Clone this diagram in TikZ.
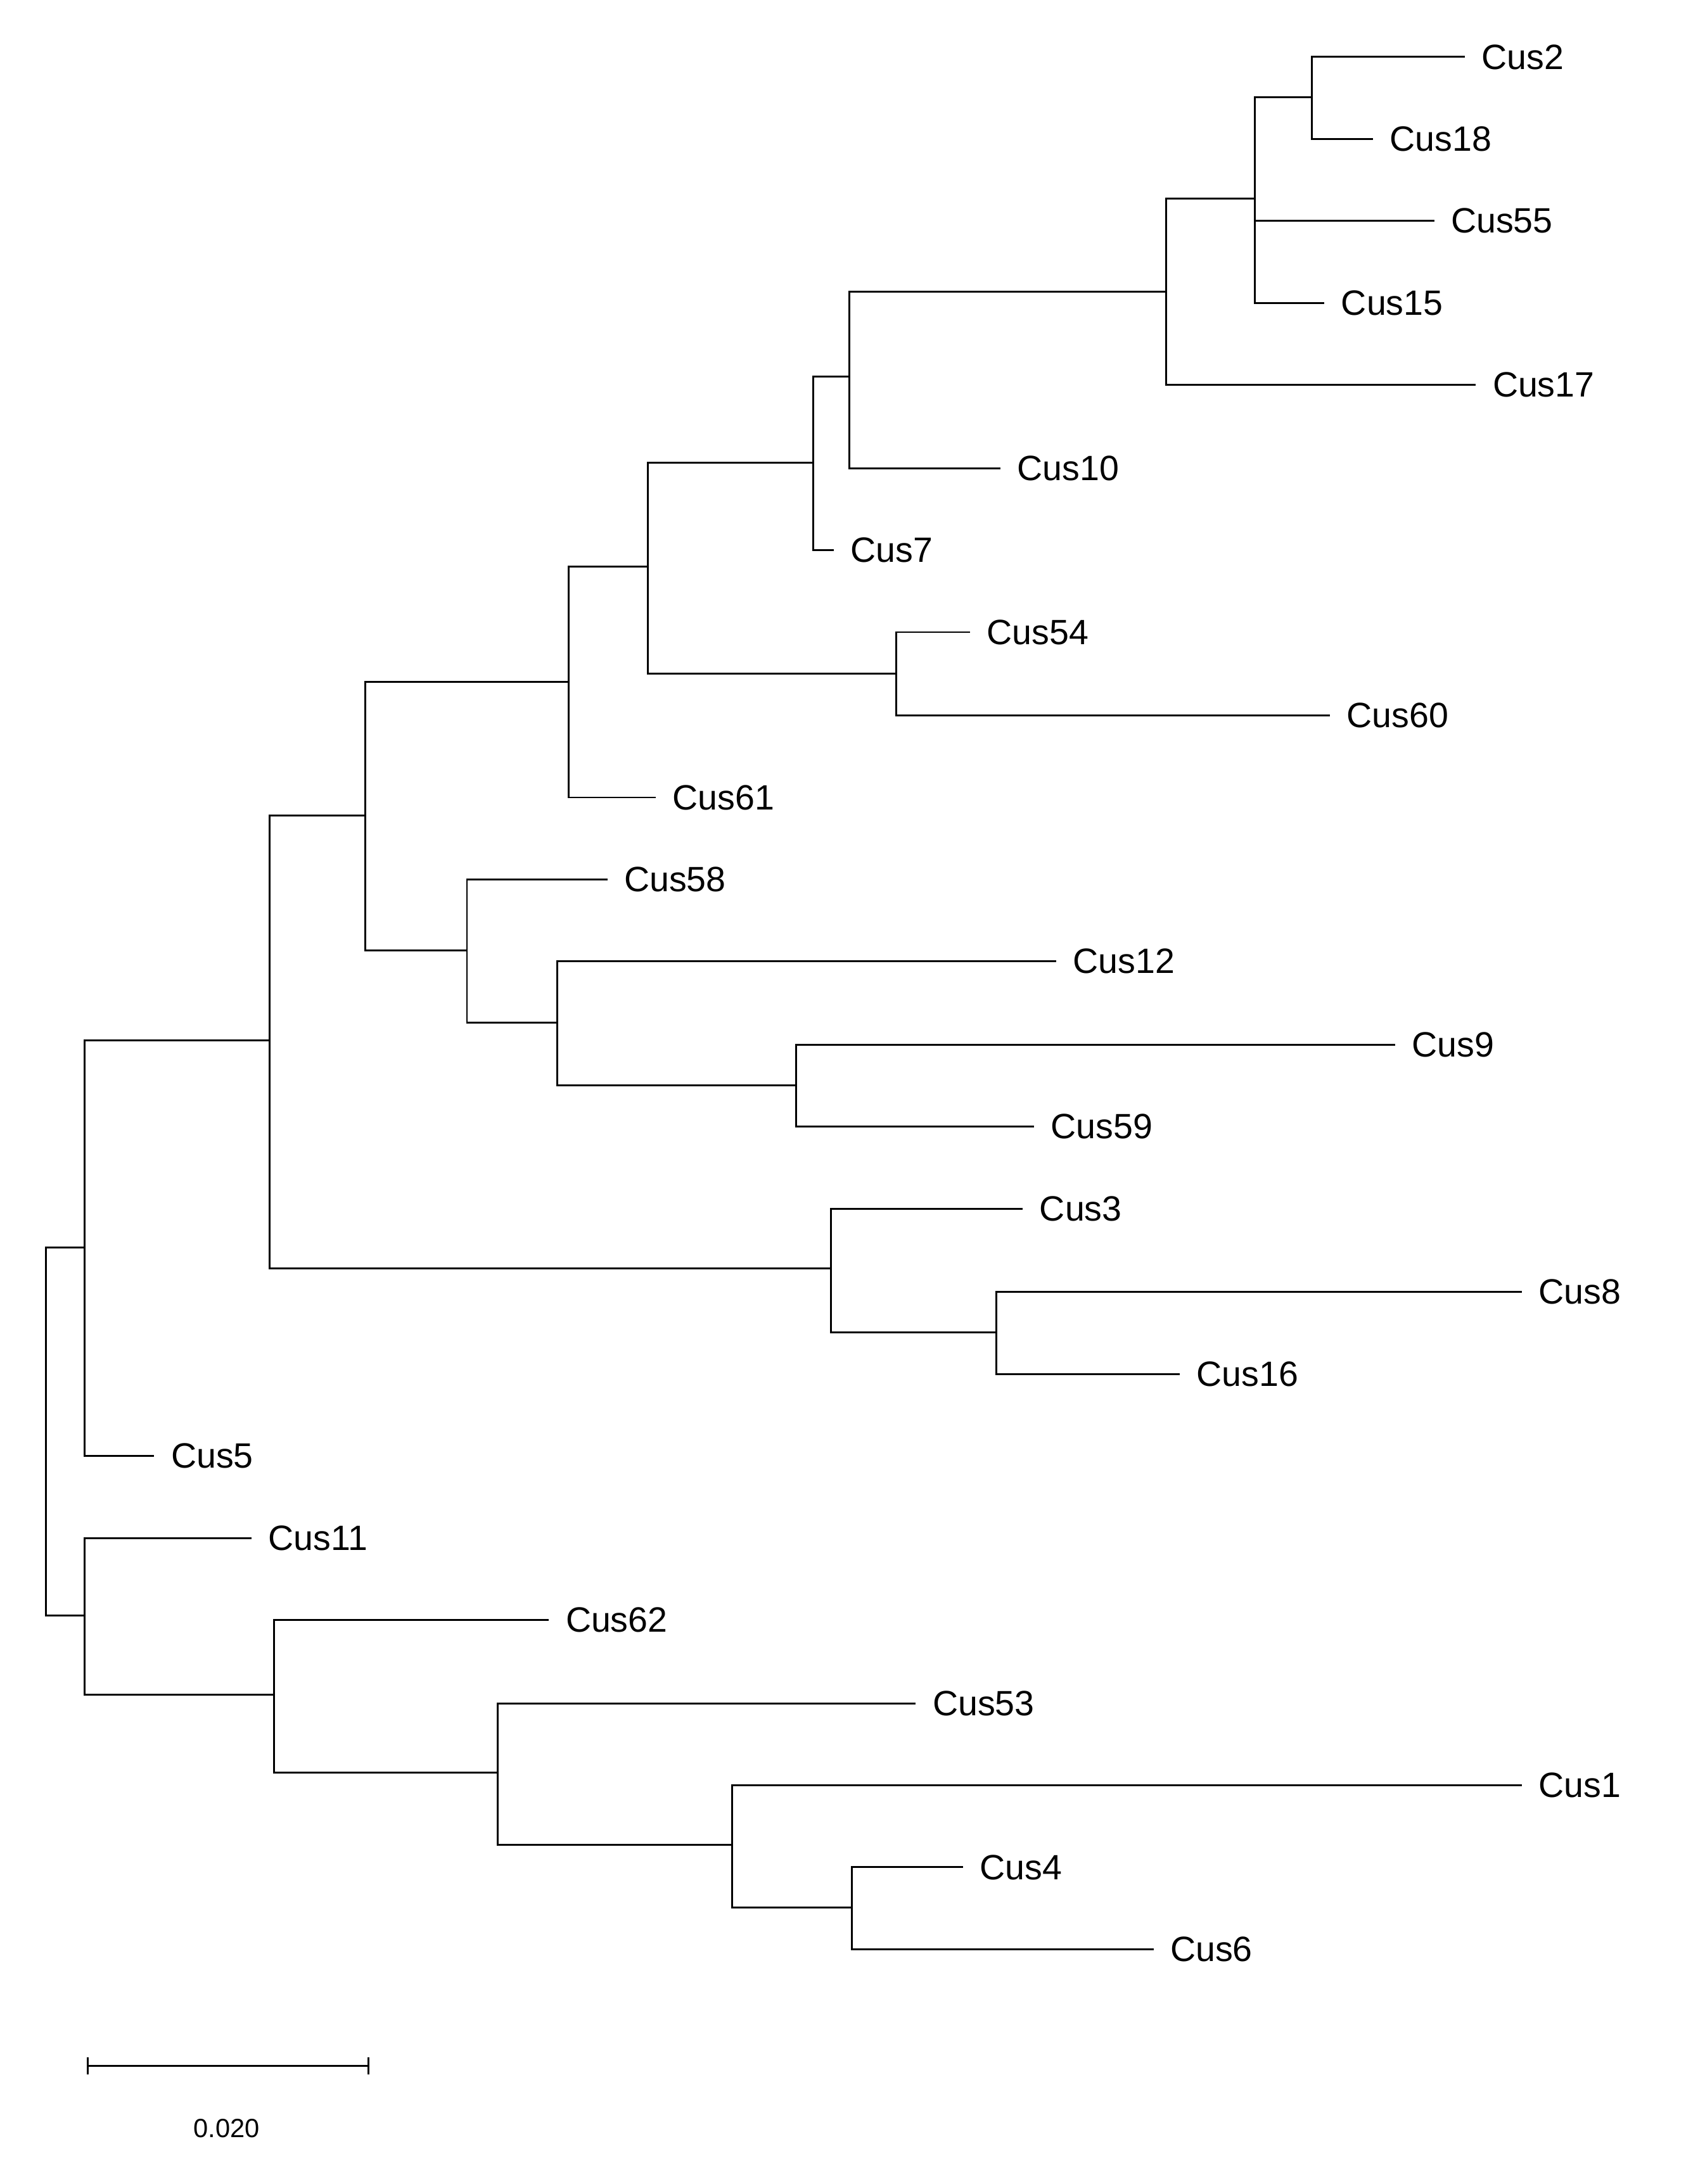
\documentclass[tikz,border=0pt]{standalone}
\usepackage{fontspec}
\setmainfont{Liberation Sans}
\begin{document}
\begin{tikzpicture}[x=0.05cm,y=-0.05cm,
  lab/.style={anchor=west,inner xsep=0.6cm,inner ysep=0pt,font=\fontsize{36}{40}\selectfont},
  br/.style={line width=1.9pt}]
\useasboundingbox (0,0) rectangle (1213,1572);
% leaves
\foreach \n/\x/\y in {Cus2/1054/41,Cus18/988/100,Cus55/1032/159,Cus15/953/218,Cus17/1062/277,
 Cus10/720/337,Cus7/600/396,Cus54/698/455,Cus60/957/515,Cus61/472/574,Cus58/437/633,
 Cus12/760/692,Cus9/1004/752,Cus59/744/811,Cus3/736/870,Cus8/1095/930,Cus16/849/989,
 Cus5/111/1048,Cus11/181/1107,Cus62/395/1166,Cus53/659/1226,Cus1/1095/1285,Cus4/693/1344,Cus6/830/1403}
  {\node[lab] (\n) at (\x,\y) {\n};}
% internal nodes
\coordinate (A) at (944,70);
\coordinate (B) at (903,143);
\coordinate (C) at (839,210);
\coordinate (D) at (611,271);
\coordinate (E) at (585,333);
\coordinate (F) at (645,485);
\coordinate (G) at (466,408);
\coordinate (H) at (409,491);
\coordinate (I) at (573,781);
\coordinate (J) at (401,736);
\coordinate (K) at (336,684);
\coordinate (L) at (263,587);
\coordinate (M) at (717,959);
\coordinate (N) at (598,913);
\coordinate (O) at (194,749);
\coordinate (P) at (61,898);
\coordinate (Q) at (613,1373);
\coordinate (R) at (527,1328);
\coordinate (S) at (358,1276);
\coordinate (T) at (197,1220);
\coordinate (U) at (61,1163);
\coordinate (Root) at (33,1030);
\begin{scope}[br]
\draw (A) |- (Cus2.west); \draw (A) |- (Cus18.west);
\draw (B) |- (A); \draw (B) |- (Cus55.west); \draw (B) |- (Cus15.west);
\draw (C) |- (B); \draw (C) |- (Cus17.west);
\draw (D) |- (C); \draw (D) |- (Cus10.west);
\draw (E) |- (D); \draw (E) |- (Cus7.west);
\draw (F) |- (Cus54.west); \draw (F) |- (Cus60.west);
\draw (G) |- (E); \draw (G) |- (F);
\draw (H) |- (G); \draw (H) |- (Cus61.west);
\draw (I) |- (Cus9.west); \draw (I) |- (Cus59.west);
\draw (J) |- (Cus12.west); \draw (J) |- (I);
\draw (K) |- (Cus58.west); \draw (K) |- (J);
\draw (L) |- (H); \draw (L) |- (K);
\draw (M) |- (Cus8.west); \draw (M) |- (Cus16.west);
\draw (N) |- (Cus3.west); \draw (N) |- (M);
\draw (O) |- (L); \draw (O) |- (N);
\draw (P) |- (O); \draw (P) |- (Cus5.west);
\draw (Q) |- (Cus4.west); \draw (Q) |- (Cus6.west);
\draw (R) |- (Cus1.west); \draw (R) |- (Q);
\draw (S) |- (Cus53.west); \draw (S) |- (R);
\draw (T) |- (Cus62.west); \draw (T) |- (S);
\draw (U) |- (Cus11.west); \draw (U) |- (T);
\draw (Root) |- (P); \draw (Root) |- (U);
% scale bar
\coordinate (s1) at (63,1487); \coordinate (s2) at (265,1487);
\draw (s1) -- (s2);
\draw ([yshift=-0.3cm]s1) -- ([yshift=0.3cm]s1);
\draw ([yshift=-0.3cm]s2) -- ([yshift=0.3cm]s2);
\end{scope}
\node[font=\fontsize{27}{30}\selectfont] (sl) at (163,1532) {0.020};
\end{tikzpicture}
\end{document}
